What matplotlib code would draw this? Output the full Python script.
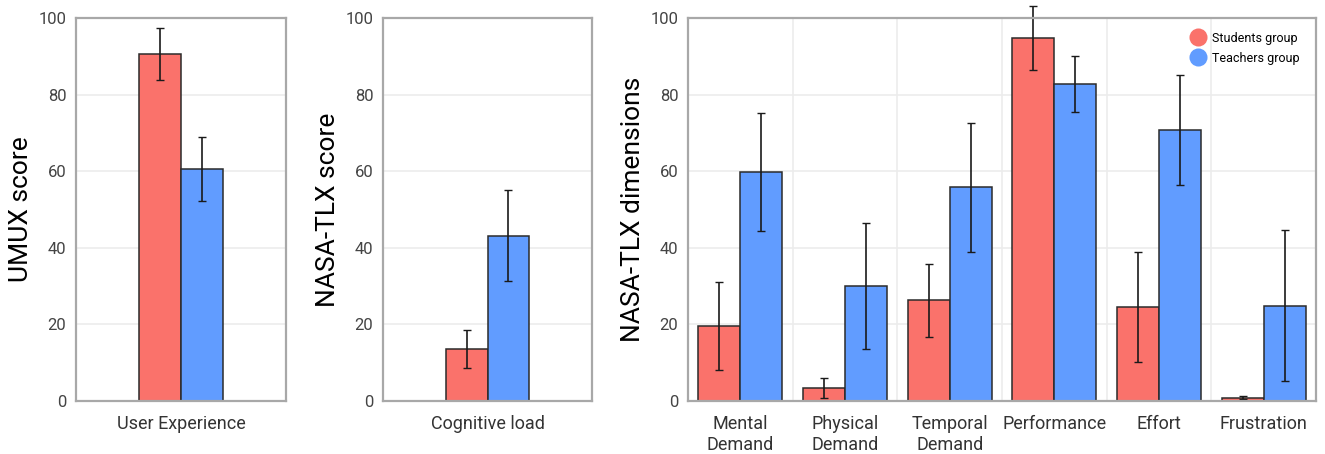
import numpy as np
import matplotlib.pyplot as plt
from matplotlib.lines import Line2D

plt.rcParams['font.family'] = ['Roboto', 'DejaVu Sans']

RED = '#FA726B'
BLUE = '#619CFF'
EDGE = '#2b2b2b'
SPINE = '#a8a8a8'
GRID = '#ececec'

# ---- data ----
ux_label = ['User Experience']
ux_students = [90.7]
ux_students_err = [6.8]
ux_teachers = [60.5]
ux_teachers_err = [8.3]

cl_label = ['Cognitive load']
cl_students = [13.5]
cl_students_err = [5.0]
cl_teachers = [43.2]
cl_teachers_err = [11.9]

dim_labels = ['Mental\nDemand', 'Physical\nDemand', 'Temporal\nDemand',
              'Performance', 'Effort', 'Frustration']
dim_students = [19.6, 3.5, 26.3, 94.8, 24.6, 0.9]
dim_students_err = [11.6, 2.6, 9.6, 8.4, 14.3, 0.3]
dim_teachers = [59.8, 30.0, 55.8, 82.8, 70.8, 24.9]
dim_teachers_err = [15.4, 16.4, 16.9, 7.4, 14.4, 19.8]


def style_axes(ax, ylabel, vgrid=None):
    ax.set_ylim(0, 100)
    ax.set_yticks(np.arange(0, 101, 20))
    ax.set_ylabel(ylabel, fontsize=19, labelpad=4)
    ax.tick_params(axis='y', length=0, labelsize=12, labelcolor='#444444', pad=7)
    ax.tick_params(axis='x', length=0, labelsize=13, labelcolor='#333333', pad=10)
    for lbl in ax.get_xticklabels():
        lbl.set_linespacing(1.25)
    ax.yaxis.grid(True, color=GRID, linewidth=1.2)
    if vgrid is not None:
        ax.set_xticks(vgrid, minor=True)
        ax.xaxis.grid(True, which='minor', color=GRID, linewidth=1.2)
        ax.tick_params(axis='x', which='minor', length=0)
    ax.set_axisbelow(True)
    for s in ax.spines.values():
        s.set_color(SPINE)
        s.set_linewidth(1.6)


def draw_pairs(ax, labels, s_vals, s_err, t_vals, t_err, width):
    x = np.arange(len(labels))
    ekw = dict(ecolor='#1a1a1a', elinewidth=1.2, capsize=3, capthick=1.0)
    b1 = ax.bar(x - width / 2, s_vals, width, color=RED, edgecolor=EDGE,
                linewidth=1.1, yerr=s_err, error_kw=ekw)
    b2 = ax.bar(x + width / 2, t_vals, width, color=BLUE, edgecolor=EDGE,
                linewidth=1.1, yerr=t_err, error_kw=ekw)
    # let the caps poke above the frame like in the original
    for b in (b1, b2):
        for line in list(b.errorbar.lines[1]) + list(b.errorbar.lines[2]):
            line.set_clip_on(False)
    ax.set_xticks(x)
    ax.set_xticklabels(labels)
    ax.set_xlim(-0.5, len(labels) - 0.5)


fig = plt.figure(figsize=(13.25, 4.54), dpi=100)
H = 454.0
W = 1325.0
bottom = 1 - 401 / H
height = 383 / H

ax1 = fig.add_axes([76 / W, bottom, 210 / W, height])
draw_pairs(ax1, ux_label, ux_students, ux_students_err,
           ux_teachers, ux_teachers_err, 0.2)
style_axes(ax1, 'UMUX score')

ax2 = fig.add_axes([383 / W, bottom, 209 / W, height])
draw_pairs(ax2, cl_label, cl_students, cl_students_err,
           cl_teachers, cl_teachers_err, 0.2)
style_axes(ax2, 'NASA-TLX score')

ax3 = fig.add_axes([688 / W, bottom, 628 / W, height])
draw_pairs(ax3, dim_labels, dim_students, dim_students_err,
           dim_teachers, dim_teachers_err, 0.4)
style_axes(ax3, 'NASA-TLX dimensions', vgrid=np.arange(0.5, 5, 1))

handles = [Line2D([], [], marker='o', linestyle='', markersize=13,
                  markerfacecolor=RED, markeredgecolor='none'),
           Line2D([], [], marker='o', linestyle='', markersize=13,
                  markerfacecolor=BLUE, markeredgecolor='none')]
ax3.legend(handles, ['Students group', 'Teachers group'], loc='upper right',
           frameon=False, fontsize=9, handletextpad=0.15, labelspacing=0.55,
           borderaxespad=0.4, bbox_to_anchor=(0.99, 0.99))

fig.savefig('out.png', dpi=100)
